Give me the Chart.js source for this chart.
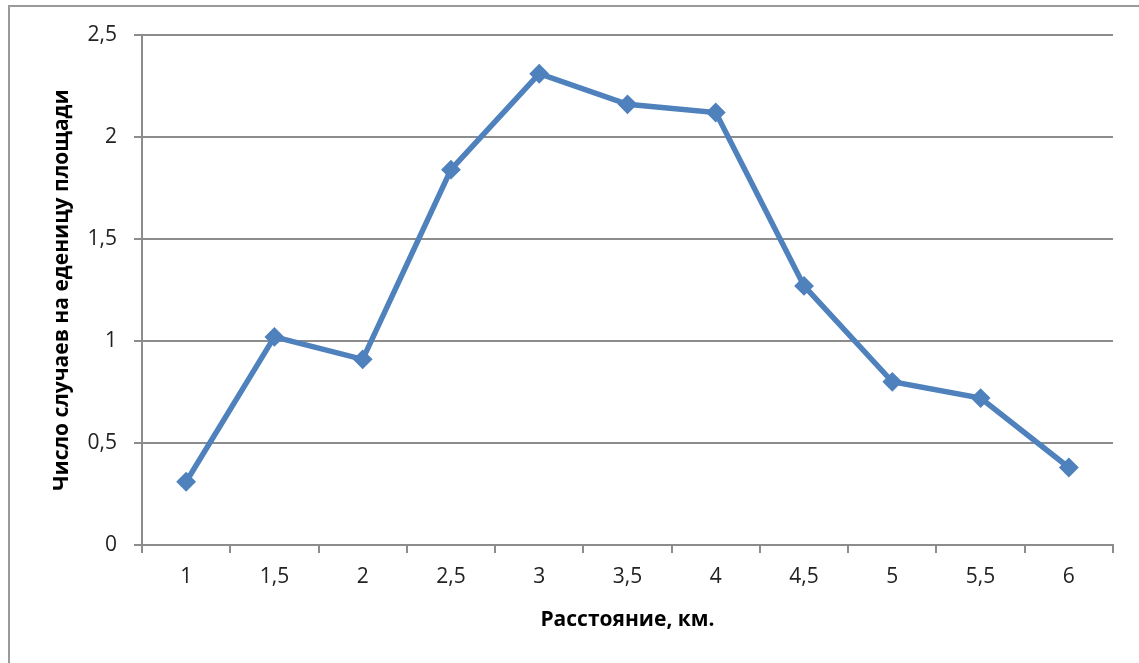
<!DOCTYPE html>
<html>
<head>
<meta charset="utf-8">
<script src="https://cdn.jsdelivr.net/npm/chart.js@4"></script>
<style>
    html, body { margin: 0; padding: 0; background: #fff; overflow: hidden; }
    #frame {
        position: absolute; left: 8px; top: 5px; width: 1200px; height: 700px;
        border-left: 2px solid #9a9a9a; border-top: 2px solid #9a9a9a;
    }
    #wrap { position: absolute; left: 0; top: 0; width: 1139px; height: 663px; }
</style>
</head>
<body>
<div id="frame"></div>
<div id="wrap"><canvas id="chart"></canvas></div>
<script>
// distance, km
const distances = ["1", "1,5", "2", "2,5", "3", "3,5", "4", "4,5", "5", "5,5", "6"];
// cases per unit area
const cases = [0.31, 1.02, 0.91, 1.84, 2.31, 2.16, 2.12, 1.27, 0.80, 0.72, 0.38];
const yTicks = ["0", "0,5", "1", "1,5", "2", "2,5"];

const FONT = "'Open Sans', 'Noto Sans', sans-serif";
const axisGray = "#8c8c8c";

const ctx = document.getElementById("chart").getContext("2d");

new Chart(ctx, {
    type: "line",
    data: {
        labels: distances,
        datasets: [{
            data: cases,
            borderColor: "#4f81bd",
            backgroundColor: "#4f81bd",
            borderWidth: 5.5,
            pointStyle: "rectRot",
            pointRadius: 8.5,
            pointBorderWidth: 2,
            pointBackgroundColor: "#4f81bd",
            pointBorderColor: "#4f81bd",
            tension: 0
        }]
    },
    options: {
        responsive: true,
        maintainAspectRatio: false,
        animation: false,
        events: [],
        layout: { padding: { left: 0, top: 35, right: 26, bottom: 0 } },
        plugins: { legend: { display: false }, tooltip: { enabled: false } },
        scales: {
            x: {
                offset: true,
                grid: {
                    offset: true,
                    drawOnChartArea: false,
                    drawTicks: true,
                    tickLength: 8,
                    color: axisGray,
                    lineWidth: 2
                },
                border: { display: true, color: axisGray, width: 2 },
                ticks: {
                    color: "#222",
                    padding: 11,
                    maxRotation: 0,
                    font: { family: FONT, size: 21 }
                },
                title: {
                    display: true,
                    text: "Расстояние, км.",
                    color: "#000",
                    font: { family: FONT, size: 21, weight: "bold" },
                    padding: { top: 0, bottom: 30 }
                },
                afterFit: (scale) => { scale.height = 118; }
            },
            y: {
                min: 0,
                max: 2.5,
                grid: {
                    color: axisGray,
                    lineWidth: 2,
                    drawTicks: true,
                    tickLength: 8
                },
                border: { display: true, color: axisGray, width: 2 },
                ticks: {
                    stepSize: 0.5,
                    color: "#222",
                    padding: 17,
                    font: { family: FONT, size: 21 },
                    callback: (v, i) => yTicks[i]
                },
                title: {
                    display: true,
                    text: "Число случаев на еденицу площади",
                    color: "#000",
                    font: { family: FONT, size: 21, weight: "bold" },
                    padding: { top: 49, bottom: 0 }
                },
                afterFit: (scale) => { scale.width = 142; }
            }
        }
    }
});
</script>
</body>
</html>
